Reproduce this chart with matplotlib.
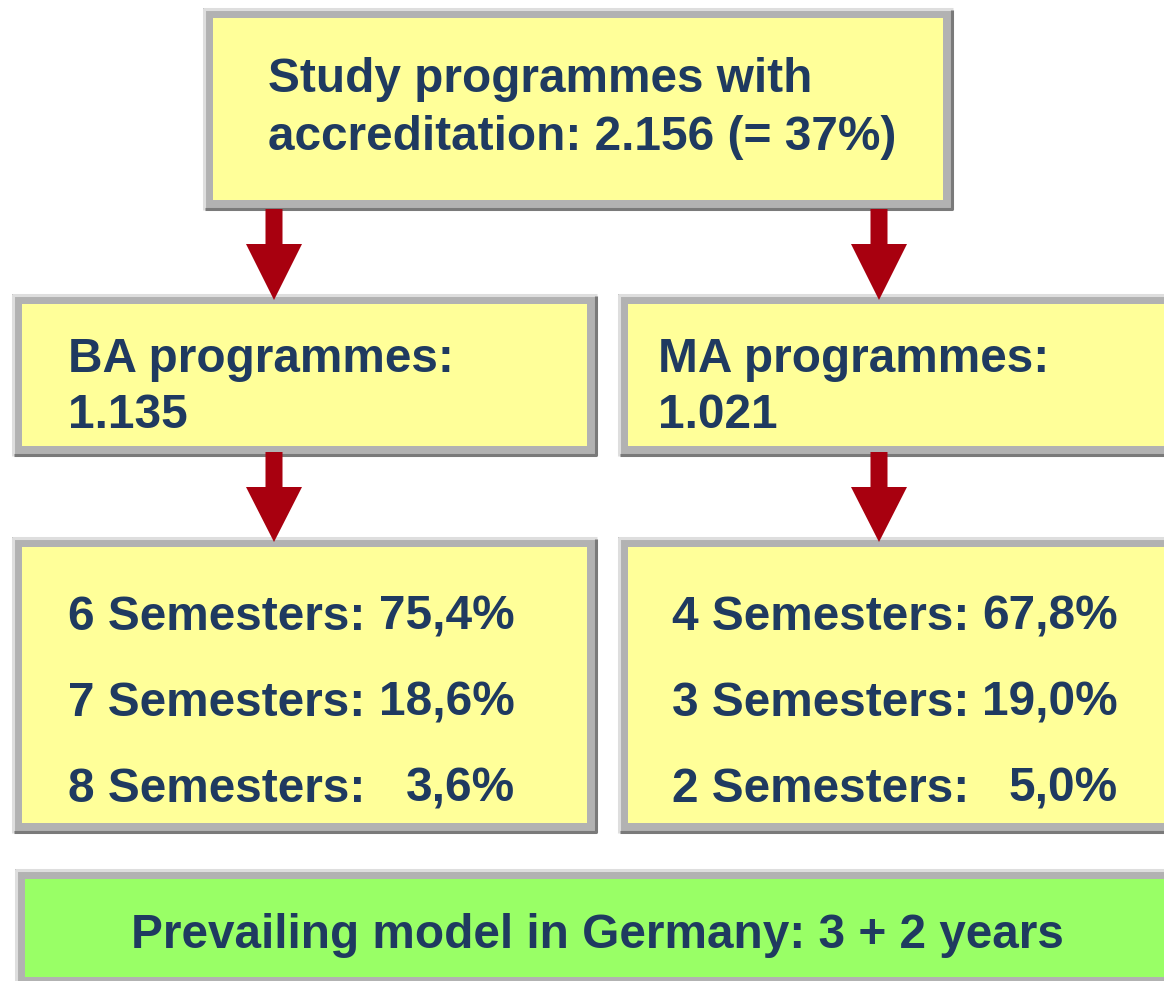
import matplotlib.pyplot as plt
from matplotlib.patches import Rectangle, Polygon

# data
total_programmes = 2156
total_share = 37
ba_count = 1135
ma_count = 1021
ba_semesters = [6, 7, 8]
ba_percent = [75.4, 18.6, 3.6]
ma_semesters = [4, 3, 2]
ma_percent = [67.8, 19.0, 5.0]
model_years = (3, 2)

NAVY = '#1f3a60'
YELLOW = '#ffff99'
GREEN = '#99ff66'
ARROW = '#a8000f'


def de_num(v):
    # 1135 -> "1.135"
    return f"{v:,}".replace(',', '.')


def de_pct(v):
    return f"{v:.1f}".replace('.', ',') + '%'


def draw_box(ax, x0, y0, x1, y1, fill):
    ax.add_patch(Rectangle((x0, y0), x1 - x0, y1 - y0, facecolor='#b2b2b2', edgecolor='none'))
    # bevel: light top/left, dark bottom/right
    ax.plot([x0 + 1, x0 + 1, x1], [y1, y0 + 1, y0 + 1], color='#dedede', lw=2.2, solid_capstyle='butt')
    ax.plot([x0 + 2, x1 - 1, x1 - 1], [y1 - 1, y1 - 1, y0 + 2], color='#7a7a7a', lw=2.2, solid_capstyle='butt')
    b = 10
    ax.add_patch(Rectangle((x0 + b, y0 + b), x1 - x0 - 2 * b, y1 - y0 - 2 * b, facecolor=fill, edgecolor='none'))


def draw_arrow(ax, cx, ytop, yhead, ytip, shaft=17, head=56):
    pts = [(cx - shaft / 2, ytop), (cx + shaft / 2, ytop), (cx + shaft / 2, yhead),
           (cx + head / 2, yhead), (cx, ytip), (cx - head / 2, yhead), (cx - shaft / 2, yhead)]
    ax.add_patch(Polygon(pts, closed=True, facecolor=ARROW, edgecolor='none', zorder=3))


fig = plt.figure(figsize=(11.64, 9.81), dpi=100)
ax = fig.add_axes([0, 0, 1, 1])
ax.set_xlim(0, 1164)
ax.set_ylim(981, 0)
ax.axis('off')

font = dict(family='Liberation Sans', fontweight='bold', color=NAVY, fontsize=34.4)
dy = 3

# top box
draw_box(ax, 203, 8, 953, 210, YELLOW)
ax.text(268, 76 + dy, "Study programmes with", va='center', ha='left', **font)
ax.text(268, 134 + dy, f"accreditation: {de_num(total_programmes)} (= {total_share}%)", va='center', ha='left', **font)

# arrows
draw_arrow(ax, 274, 209, 244, 300)
draw_arrow(ax, 879, 209, 244, 300)
draw_arrow(ax, 274, 452, 487, 542)
draw_arrow(ax, 879, 452, 487, 542)

# BA / MA boxes
draw_box(ax, 12, 294, 597, 456, YELLOW)
draw_box(ax, 618, 294, 1175, 456, YELLOW)
ax.text(68, 357 + dy, "BA programmes:", va='center', ha='left', **font)
ax.text(68, 413 + dy, de_num(ba_count), va='center', ha='left', **font)
ax.text(658, 357 + dy, "MA programmes:", va='center', ha='left', **font)
ax.text(658, 413 + dy, de_num(ma_count), va='center', ha='left', **font)

# semester boxes
draw_box(ax, 12, 537, 597, 833, YELLOW)
draw_box(ax, 618, 537, 1175, 833, YELLOW)
rows_y = [614, 700, 786]
for y, s, p in zip(rows_y, ba_semesters, ba_percent):
    ax.text(68, y + dy, f"{s} Semesters:", va='center', ha='left', **font)
    ax.text(515, y + dy, de_pct(p), va='center', ha='right', **font)
for y, s, p in zip(rows_y, ma_semesters, ma_percent):
    ax.text(672, y + dy, f"{s} Semesters:", va='center', ha='left', **font)
    ax.text(1118, y + dy, de_pct(p), va='center', ha='right', **font)

# bottom green box
draw_box(ax, 15, 869, 1175, 987, GREEN)
ax.text(597, 932 + dy, f"Prevailing model in Germany: {model_years[0]} + {model_years[1]} years",
        va='center', ha='center', **font)

fig.savefig('out.png', dpi=100)
